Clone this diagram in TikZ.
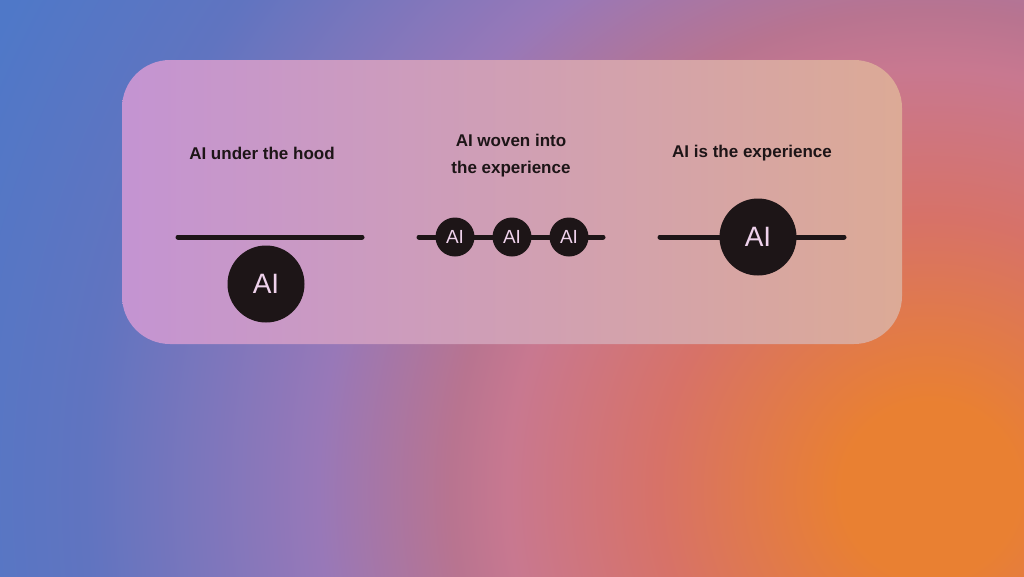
\documentclass[tikz,border=0pt]{standalone}
\usepackage{fontspec}
\setmainfont{Liberation Sans}
\definecolor{ink}{HTML}{1D1517}
\definecolor{ailight}{HTML}{EFD2EC}
\definecolor{bgA}{HTML}{E98032}
\definecolor{bgB}{HTML}{D77268}
\definecolor{bgC}{HTML}{C87890}
\definecolor{bgD}{HTML}{B87490}
\definecolor{bgE}{HTML}{9878B8}
\definecolor{bgF}{HTML}{6074C0}
\definecolor{bgG}{HTML}{4F78C8}
\definecolor{panelL}{HTML}{C494D2}
\definecolor{panelM}{HTML}{D3A0BE}
\definecolor{panelR}{HTML}{DCAA96}
\pgfdeclareradialshading{bgrad}{\pgfpoint{0bp}{0bp}}{%
  color(0bp)=(bgA); color(2bp)=(bgA); color(6.2bp)=(bgB);
  color(9.6bp)=(bgC); color(10.9bp)=(bgD); color(13.9bp)=(bgE);
  color(19.2bp)=(bgF); color(23.6bp)=(bgG); color(50bp)=(bgG)}
\tikzset{
  title/.style={text=ink, font=\fontsize{17}{27}\selectfont\bfseries, align=center, inner sep=0pt},
  bar/.style={draw=ink, line width=5pt, line cap=round},
  bigai/.style={circle, fill=ink, minimum size=77pt, inner sep=0pt, text=ailight, font=\fontsize{28}{28}\selectfont},
  smallai/.style={circle, fill=ink, minimum size=39pt, inner sep=0pt, text=ailight, font=\fontsize{19}{19}\selectfont},
}
\begin{document}
\begin{tikzpicture}[x=1pt, y=-1pt]
\useasboundingbox (0,0) rectangle (1024,576);
% background
\begin{scope}
  \clip (0,0) rectangle (1024,576);
  \shade[shading=bgrad] (-170,-610) rectangle (2030,1590);
\end{scope}
% panel
\shade[left color=panelL, middle color=panelM, right color=panelR, rounded corners=48pt] (122,60) rectangle (902,344);
% titles
\node[title] (t1) at (262,153) {AI under the hood};
\node[title] (t2) at (511,156) {AI woven into\\the experience};
\node[title] (t3) at (752,153) {AI is the experience};
% section 1
\coordinate (a1) at (178,237);
\coordinate (b1) at (362,237);
\draw[bar] (a1) -- (b1);
\node[bigai] (ai1) at (266,284) {AI};
% section 2
\coordinate (a2) at (419,237);
\coordinate (b2) at (603,237);
\node[smallai] (ai21) at (455,237) {AI};
\node[smallai] (ai22) at (512,237) {AI};
\node[smallai] (ai23) at (569,237) {AI};
\draw[bar] (a2) -- (ai21) (ai21) -- (ai22) (ai22) -- (ai23) (ai23) -- (b2);
% section 3
\coordinate (a3) at (660,237);
\coordinate (b3) at (844,237);
\node[bigai] (ai3) at (758,237) {AI};
\draw[bar] (a3) -- (ai3) (ai3) -- (b3);
\end{tikzpicture}
\end{document}
